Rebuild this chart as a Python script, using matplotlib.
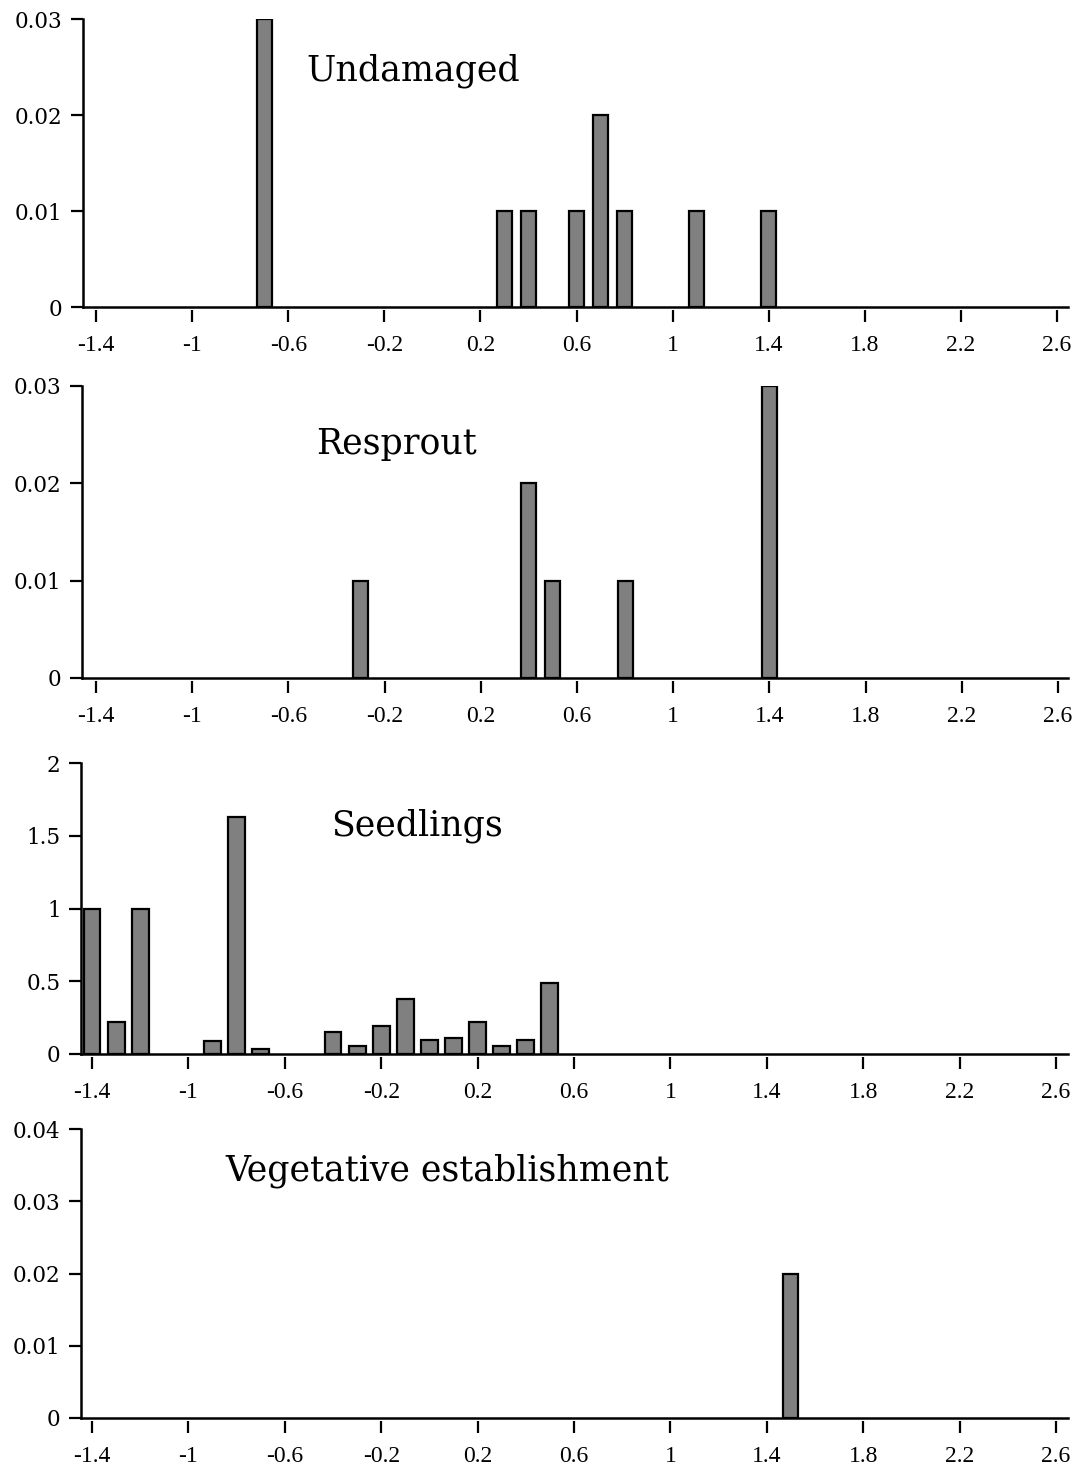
import matplotlib
matplotlib.use("Agg")
import matplotlib.pyplot as plt

# data
undamaged_x = [-0.7, 0.3, 0.4, 0.6, 0.7, 0.8, 1.1, 1.4]
undamaged_y = [0.03, 0.01, 0.01, 0.01, 0.02, 0.01, 0.01, 0.01]

resprout_x = [-0.3, 0.4, 0.5, 0.8, 1.4]
resprout_y = [0.01, 0.02, 0.01, 0.01, 0.03]

seedling_x = [-1.4, -1.3, -1.2, -0.9, -0.8, -0.7, -0.4, -0.3, -0.2, -0.1,
              0.0, 0.1, 0.2, 0.3, 0.4, 0.5]
seedling_y = [1.0, 0.22, 1.0, 0.09, 1.63, 0.035, 0.15, 0.055, 0.19, 0.38,
              0.095, 0.11, 0.22, 0.055, 0.095, 0.49]

veg_x = [1.5]
veg_y = [0.02]

xticks = [-1.4, -1.0, -0.6, -0.2, 0.2, 0.6, 1.0, 1.4, 1.8, 2.2, 2.6]
xtick_labels = ["-1.4", "-1", "-0.6", "-0.2", "0.2", "0.6", "1", "1.4", "1.8", "2.2", "2.6"]

W, H = 1078, 1469
fig = plt.figure(figsize=(W / 100, H / 100), dpi=100)

# per panel: x data, y data, bar width, yticks, ytick labels, title, title pos,
# pixel geometry (spine_left, x of -1.4, x of 2.6, right end, y top, y zero)
panels = [
    (undamaged_x, undamaged_y, 0.062, [0, 0.01, 0.02, 0.03], ["0", "0.01", "0.02", "0.03"],
     "Undamaged", (413, 81), (83, 96, 1057, 1068, 19, 307)),
    (resprout_x, resprout_y, 0.062, [0, 0.01, 0.02, 0.03], ["0", "0.01", "0.02", "0.03"],
     "Resprout", (396, 454), (82, 96, 1058, 1068, 386, 678)),
    (seedling_x, seedling_y, 0.070, [0, 0.5, 1, 1.5, 2], ["0", "0.5", "1", "1.5", "2"],
     "Seedlings", (417, 836), (81, 92, 1056, 1068, 763, 1054)),
    (veg_x, veg_y, 0.062, [0, 0.01, 0.02, 0.03, 0.04], ["0", "0.01", "0.02", "0.03", "0.04"],
     "Vegetative establishment", (447, 1180), (81, 92, 1056, 1068, 1129, 1418)),
]

for xs, ys, bw, yt, ytl, title, (tx, ty), (sl, x14, x26, re, yt_px, y0_px) in panels:
    ax = fig.add_axes([sl / W, (H - y0_px) / H, (re - sl) / W, (y0_px - yt_px) / H])
    u = 4.0 / (x26 - x14)
    ax.set_xlim(-1.4 - (x14 - sl) * u, 2.6 + (re - x26) * u)
    ax.set_ylim(0, yt[-1])
    ax.bar(xs, ys, width=bw, color="#808080", edgecolor="black", linewidth=1.6, zorder=3)
    ax.axhline(0, color="black", linewidth=1.8, zorder=4, clip_on=False)

    for s in ["top", "right"]:
        ax.spines[s].set_visible(False)
    ax.spines["bottom"].set_position(("outward", 2.5))
    ax.spines["bottom"].set_color("none")
    ax.spines["left"].set_linewidth(1.8)

    ax.set_xticks(xticks)
    ax.set_xticklabels(xtick_labels, fontfamily="Liberation Serif", fontsize=17)
    ax.set_yticks(yt)
    ax.set_yticklabels(ytl, fontfamily="DejaVu Serif", fontsize=15.5)
    ax.tick_params(axis="x", direction="out", length=8.5, width=1.6, pad=9, color="black")
    ax.tick_params(axis="y", direction="out", length=8.6, width=1.6, pad=6)

    fig.text(tx / W, 1 - ty / H, title, ha="center", va="baseline",
             fontfamily="DejaVu Serif", fontsize=25)

fig.savefig("out.png", dpi=100)
